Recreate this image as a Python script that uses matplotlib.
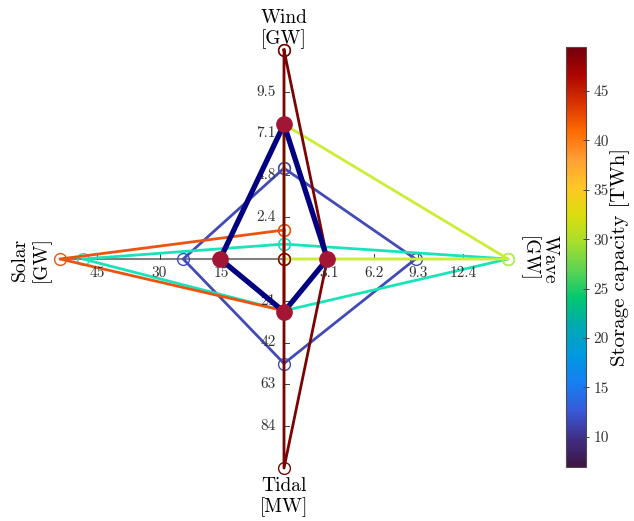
import numpy as np
import matplotlib
matplotlib.use("Agg")
import matplotlib.pyplot as plt
from matplotlib.colors import Normalize, LinearSegmentedColormap
from matplotlib.cm import ScalarMappable

plt.rcParams['font.family'] = ['cmr10', 'DejaVu Serif']
plt.rcParams['mathtext.fontset'] = 'cm'
plt.rcParams['axes.unicode_minus'] = False

# ---- data ----
axis_names = ["Wind\n[GW]", "Wave\n[GW]", "Tidal\n[MW]", "Solar\n[GW]"]
axis_max = [11.9, 15.5, 105.0, 54.0]
wind_ticks = [2.38, 4.76, 7.14, 9.52]
wind_labels = ["2.4", "4.8", "7.1", "9.5"]
wave_ticks = [3.1, 6.2, 9.3, 12.4]
wave_labels = ["3.1", "6.2", "9.3", "12.4"]
tidal_ticks = [21, 42, 63, 84]
tidal_labels = ["21", "42", "63", "84"]
solar_ticks = [15, 30, 45]
solar_labels = ["15", "30", "45"]

# each configuration: wind, wave, tidal, solar
wind = [5.17, 0.85, 7.67, 1.65, 11.9]
wave = [9.1, 15.5, 15.5, 0.0, 3.0]
tidal = [52.5, 26.0, 0.0, 26.0, 105.0]
solar = [24.3, 48.5, 0.0, 54.0, 0.0]
storage = [10.3, 21.0, 30.8, 41.4, 49.5]

best_wind, best_wave, best_tidal, best_solar = 7.67, 3.0, 26.5, 15.4

storage_min, storage_max = 6.9, 49.5
cbar_ticks = [10, 15, 20, 25, 30, 35, 40, 45]

# ---- figure ----
W, H = 634, 521
fig = plt.figure(figsize=(W / 100, H / 100), dpi=100)
ax = fig.add_axes([60 / W, (H - 468) / H, 448 / W, 418 / H])
ax.set_xlim(-1, 1)
ax.set_ylim(-1, 1)
ax.axis('off')

pxx = 2 / 448.0
pxy = 2 / 418.0


def to_xy(w, v, t, s):
    xs = [0, v / axis_max[1], 0, -s / axis_max[3], 0]
    ys = [w / axis_max[0], 0, -t / axis_max[2], 0, w / axis_max[0]]
    return xs, ys


# axis lines
for (x1, y1) in [(0, 1), (1, 0), (0, -1), (-1, 0)]:
    ax.plot([0, x1], [0, y1], color='0.5', lw=1.5, zorder=1, clip_on=False)

tick_col = '0.25'
lab_col = '0.2'
fs_tick = 11
# wind ticks (up)
for v, l in zip(wind_ticks, wind_labels):
    y = v / axis_max[0]
    ax.plot([0, 5 * pxx], [y, y], color=tick_col, lw=0.7, zorder=1)
    ax.text(-8 * pxx, y, l, ha='right', va='center', fontsize=fs_tick, color=lab_col)
# tidal ticks (down)
for v, l in zip(tidal_ticks, tidal_labels):
    y = -v / axis_max[2]
    ax.plot([0, 5 * pxx], [y, y], color=tick_col, lw=0.7, zorder=1)
    ax.text(-8 * pxx, y, l, ha='right', va='center', fontsize=fs_tick, color=lab_col)
# wave ticks (right)
for v, l in zip(wave_ticks, wave_labels):
    x = v / axis_max[1]
    ax.plot([x, x], [0, 5 * pxy], color=tick_col, lw=0.7, zorder=1)
    ax.text(x, -7 * pxy, l, ha='center', va='top', fontsize=fs_tick, color=lab_col)
# solar ticks (left)
for v, l in zip(solar_ticks, solar_labels):
    x = -v / axis_max[3]
    ax.plot([x, x], [0, 5 * pxy], color=tick_col, lw=0.7, zorder=1)
    ax.text(x, -7 * pxy, l, ha='center', va='top', fontsize=fs_tick, color=lab_col)

# axis names
fs_name = 14
ax.text(0, 1 + 1 * pxy, axis_names[0], ha='center', va='bottom', fontsize=fs_name,
        multialignment='center', linespacing=1.15)
ax.text(0, -1 - 9 * pxy, axis_names[2], ha='center', va='top', fontsize=fs_name,
        multialignment='center', linespacing=1.15)
ax.text(-1 - 9 * pxx, 0, axis_names[3], ha='right', va='center', rotation=90, fontsize=fs_name,
        multialignment='center', linespacing=1.15)
ax.text(1 + 11 * pxx, 0, axis_names[1], ha='left', va='center', rotation=-90, fontsize=fs_name,
        multialignment='center', linespacing=1.15)

# configurations
norm = Normalize(vmin=storage_min, vmax=storage_max)
cmap_lines = plt.get_cmap('turbo')
for i in range(len(storage)):
    xs, ys = to_xy(wind[i], wave[i], tidal[i], solar[i])
    c = cmap_lines(norm(storage[i]))
    ax.plot(xs, ys, color=c, lw=2, zorder=2 + i * 0.1, clip_on=False,
            marker='o', mfc='none', mec=c, ms=8.5, mew=1.0)

# highlighted configuration
xs, ys = to_xy(best_wind, best_wave, best_tidal, best_solar)
ax.plot(xs, ys, color='#000080', lw=3.8, zorder=3, clip_on=False, solid_joinstyle='miter')
ax.plot(xs[:-1], ys[:-1], ls='none', marker='o', ms=11, mfc='#a31535', mec='#a31535',
        zorder=4, clip_on=False)

# colorbar
cb_colors = [
    (0.24, 0.08, 0.26), (0.25, 0.18, 0.52), (0.22, 0.35, 0.85), (0.08, 0.50, 0.95),
    (0.0, 0.60, 0.88), (0.0, 0.66, 0.70), (0.0, 0.78, 0.45), (0.35, 0.83, 0.33),
    (0.65, 0.87, 0.18), (0.86, 0.87, 0.05), (1.0, 0.78, 0.15), (1.0, 0.62, 0.2),
    (1.0, 0.42, 0.0), (0.85, 0.2, 0.0), (0.68, 0.02, 0.0), (0.45, 0.0, 0.05)]
cb_cmap = LinearSegmentedColormap.from_list('cb', cb_colors)
cax = fig.add_axes([566 / W, (H - 467.3) / H, 20 / W, 420.6 / H])
sm = ScalarMappable(norm=norm, cmap=cb_cmap)
cb = fig.colorbar(sm, cax=cax, ticks=cbar_ticks)
cb.outline.set_edgecolor('0.3')
cb.outline.set_linewidth(0.8)
cax.tick_params(labelsize=11, length=4, width=0.7, color='0.25', labelcolor='0.2', direction='inout')
cb.set_label('Storage capacity [TWh]', fontsize=15, labelpad=1)

fig.savefig('out.png', dpi=100)
